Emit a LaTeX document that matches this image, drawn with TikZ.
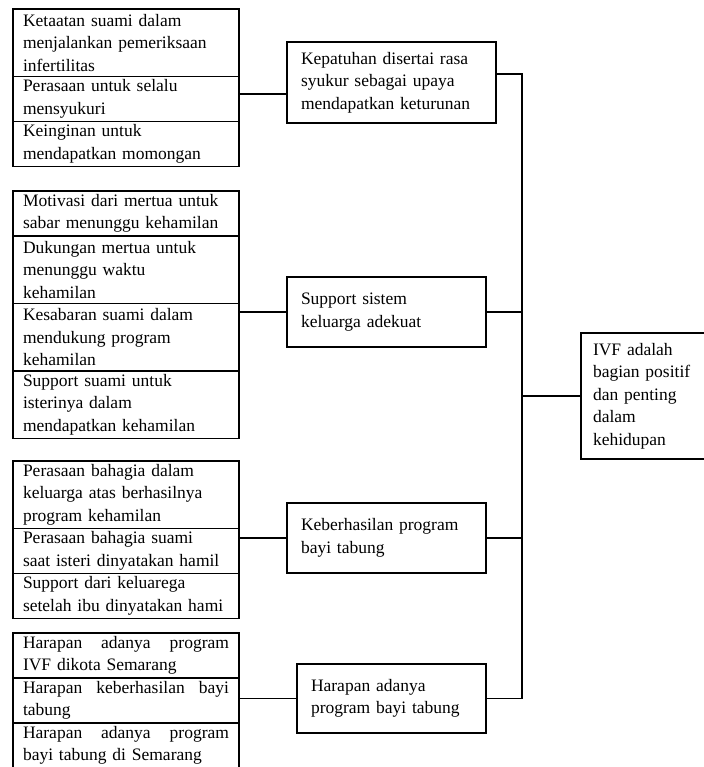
\documentclass[tikz,border=0pt]{standalone}
\usepackage{fontspec}
\setmainfont{Liberation Serif}
\usetikzlibrary{positioning}

\begin{document}
\begin{tikzpicture}[x=1pt, y=-1pt, line width=1.2pt,
      font=\fontsize{17.5}{22.5}\selectfont,
      cell/.style={draw, outer sep=0pt, align=left, text width=206pt,
                   inner xsep=10pt, inner ysep=0pt, minimum height=#1*22.5pt},
      midbox/.style={draw, outer sep=0pt, anchor=north west, align=left,
                     inner xsep=14pt, inner ysep=0pt}]
              \useasboundingbox (0,0) rectangle (703,767);
              % left column
              \node[cell=3, anchor=north west] (ketaatan) at (13,9) {Ketaatan suami dalam\\menjalankan pemeriksaan\\infertilitas};
              \node[cell=2, below=0pt of ketaatan] (perasaan) {Perasaan untuk selalu\\mensyukuri};
              \node[cell=2, below=0pt of perasaan] (keinginan) {Keinginan untuk\\mendapatkan momongan};
              \node[cell=2, anchor=north west] (motivasi) at (13,191) {Motivasi dari mertua untuk\\sabar menunggu kehamilan};
              \node[cell=3, below=0pt of motivasi] (dukungan) {Dukungan mertua untuk\\menunggu waktu\\kehamilan};
              \node[cell=3, below=0pt of dukungan] (kesabaran) {Kesabaran suami dalam\\mendukung program\\kehamilan};
              \node[cell=3, below=0pt of kesabaran] (supsuami) {Support suami untuk\\isterinya dalam\\mendapatkan kehamilan};
              \node[cell=3, anchor=north west] (bahagia) at (13,461) {Perasaan bahagia dalam\\keluarga atas berhasilnya\\program kehamilan};
              \node[cell=2, below=0pt of bahagia] (bahagiasuami) {Perasaan bahagia suami\\saat isteri dinyatakan hamil};
              \node[cell=2, below=0pt of bahagiasuami] (supkeluarga) {Support dari keluarega\\setelah ibu dinyatakan hami};
              \node[cell=2, anchor=north west] (harapivf) at (13,633) {Harapan\hfill adanya\hfill program\\IVF dikota Semarang};
              \node[cell=2, below=0pt of harapivf] (harapbayi) {Harapan\hfill keberhasilan\hfill bayi\\tabung};
              \node[cell=2, below=0pt of harapbayi] (harapsmg) {Harapan\hfill adanya\hfill program\\bayi tabung di Semarang};
              % themes
              \node[midbox, text width=181pt, minimum height=81pt] (kepatuhan) at (287,42) {Kepatuhan disertai rasa\\syukur sebagai upaya\\mendapatkan keturunan};
              \node[midbox, text width=171pt, minimum height=70pt] (support) at (287,277) {Support sistem\\keluarga adekuat};
              \node[midbox, text width=171pt, minimum height=70pt] (keberhasilan) at (287,503) {Keberhasilan program\\bayi tabung};
              \node[midbox, text width=161pt, minimum height=69pt] (harapan) at (297,664) {Harapan adanya\\program bayi tabung};
              \node[midbox, text width=108pt, minimum height=126pt, inner xsep=12pt] (ivf) at (581,333) {IVF adalah\\bagian positif\\dan penting\\dalam\\kehidupan};
              \coordinate (bus) at (522,0);
              % connectors
              \draw ([yshift=-11.5pt]kepatuhan.west) -- ([yshift=-11.5pt]kepatuhan.west -| perasaan.east);
              \draw (support.west) -- (support.west -| kesabaran.east);
              \draw (keberhasilan.west) -- (keberhasilan.west -| bahagiasuami.east);
              \draw (harapan.west) -- (harapan.west -| harapbayi.east);
              \draw ([yshift=8.5pt]kepatuhan.east) -- ([yshift=8.5pt]kepatuhan.east -| bus) -- (harapan.east -| bus) -- (harapan.east);
              \draw (support.east) -- (support.east -| bus);
              \draw (keberhasilan.east) -- (keberhasilan.east -| bus);
              \draw (ivf.west) -- (ivf.west -| bus);
          \end{tikzpicture}
\end{document}
